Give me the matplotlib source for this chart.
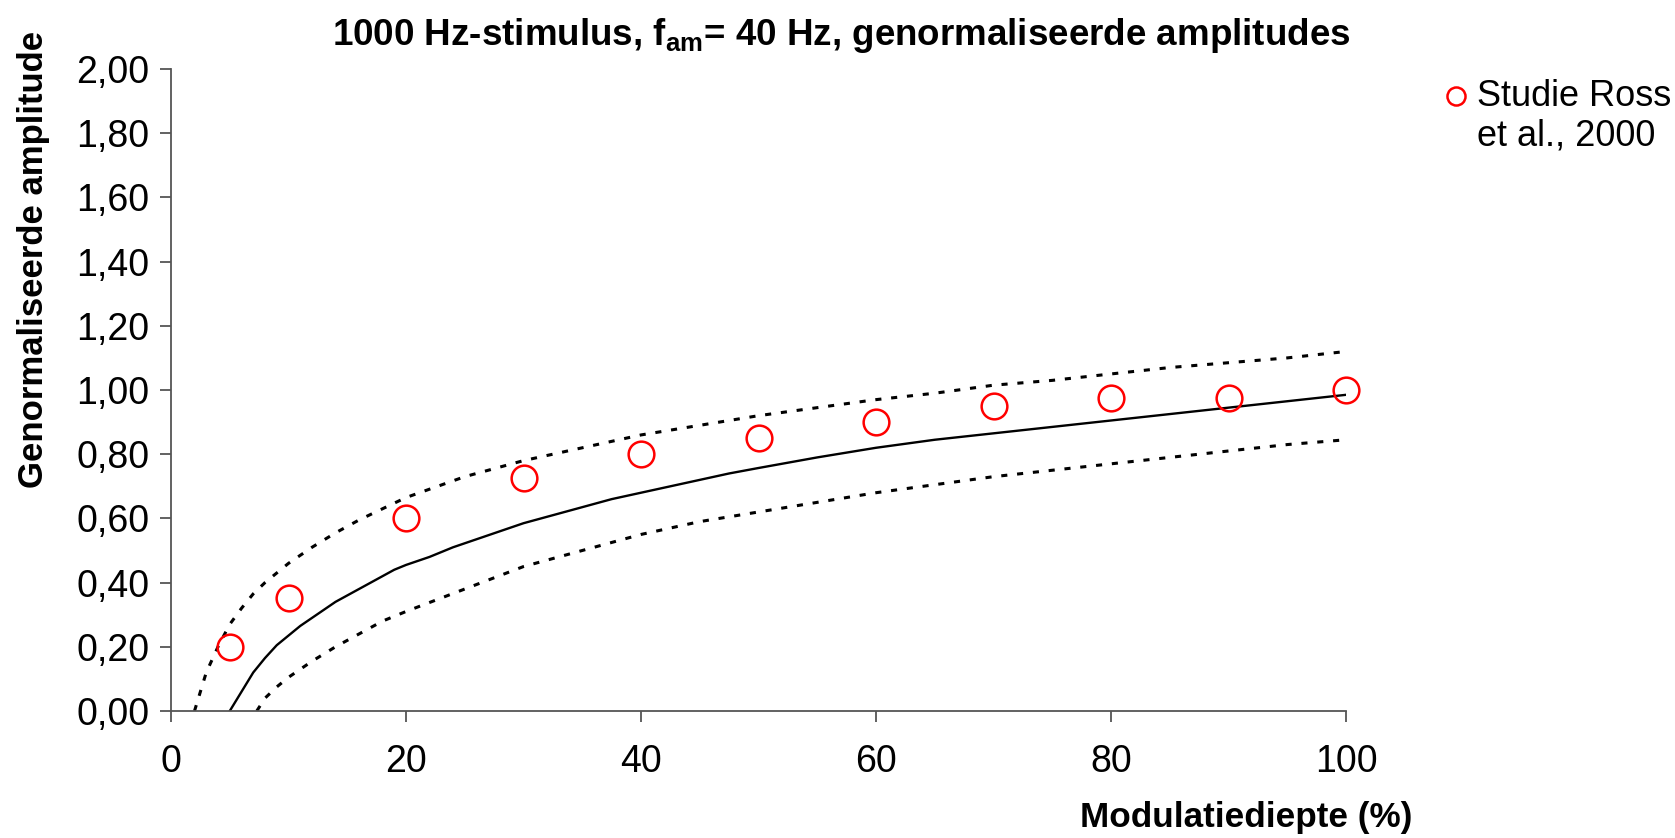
import matplotlib
matplotlib.use("Agg")
import matplotlib.pyplot as plt
from matplotlib.lines import Line2D
from matplotlib.ticker import FuncFormatter

plt.rcParams['font.family'] = ['Liberation Sans', 'DejaVu Sans']
plt.rcParams['mathtext.fontset'] = 'custom'
plt.rcParams['mathtext.bf'] = 'Liberation Sans:bold'
plt.rcParams['mathtext.rm'] = 'Liberation Sans'

# mean curve (solid)
mean_x = [5, 6, 7, 8, 9, 10, 11, 12, 13, 14, 15, 16, 17, 18, 19, 20, 22, 24,
          26, 28, 30, 32.5, 35, 37.5, 40, 42.5, 45, 47.5, 50, 55, 60, 65, 70,
          75, 80, 85, 90, 95, 100]
mean_y = [0.0, 0.06, 0.12, 0.165, 0.205, 0.235, 0.265, 0.29, 0.315, 0.34,
          0.36, 0.38, 0.40, 0.42, 0.44, 0.455, 0.48, 0.51, 0.535, 0.56, 0.585,
          0.61, 0.635, 0.66, 0.68, 0.70, 0.72, 0.74, 0.757, 0.79, 0.82, 0.845,
          0.865, 0.885, 0.905, 0.925, 0.945, 0.965, 0.985]

# upper bound (dotted)
upper_x = [2, 3, 4, 5, 6, 7, 8, 9, 10, 12, 14, 16, 18, 20, 25, 30, 35, 40,
           45, 50, 55, 60, 65, 70, 75, 80, 85, 90, 95, 100]
upper_y = [0.0, 0.12, 0.20, 0.27, 0.32, 0.365, 0.40, 0.43, 0.46, 0.51, 0.555,
           0.595, 0.63, 0.665, 0.73, 0.78, 0.82, 0.86, 0.89, 0.92, 0.945, 0.97,
           0.99, 1.015, 1.03, 1.05, 1.07, 1.085, 1.10, 1.12]

# lower bound (dotted)
lower_x = [7.3, 8, 9, 10, 12, 14, 16, 18, 20, 25, 30, 35, 40, 45, 50, 55, 60,
           65, 70, 75, 80, 85, 90, 95, 100]
lower_y = [0.0, 0.04, 0.075, 0.105, 0.155, 0.20, 0.24, 0.28, 0.31, 0.38, 0.45,
           0.50, 0.55, 0.59, 0.62, 0.65, 0.68, 0.705, 0.73, 0.75, 0.77, 0.79,
           0.81, 0.83, 0.845]

# Ross et al., 2000
ross_x = [5, 10, 20, 30, 40, 50, 60, 70, 80, 90, 100]
ross_y = [0.20, 0.353, 0.60, 0.727, 0.80, 0.85, 0.90, 0.95, 0.975, 0.975, 1.00]

fig = plt.figure(figsize=(16.75, 8.38), dpi=100)
ax = fig.add_axes([171 / 1675, 1 - 711 / 838, (1346 - 171) / 1675, (711 - 69) / 838])

ax.plot(upper_x, upper_y, color='black', lw=2.2, linestyle=(0, (2, 3.2)))
ax.plot(lower_x, lower_y, color='black', lw=2.2, linestyle=(0, (2, 3.2)))
ax.plot(mean_x, mean_y, color='black', lw=1.7)
ax.plot(ross_x, ross_y, 'o', mfc='none', mec='red', ms=18.5, mew=1.8,
        clip_on=False)

ax.set_xlim(0, 100)
ax.set_ylim(0, 2)
ax.set_xticks(range(0, 101, 20))
ax.set_yticks([i * 0.2 for i in range(11)])
ax.yaxis.set_major_formatter(FuncFormatter(lambda v, p: ('%.2f' % v).replace('.', ',')))

for s in ['top', 'right']:
    ax.spines[s].set_visible(False)
for s in ['left', 'bottom']:
    ax.spines[s].set_color('#555555')
    ax.spines[s].set_linewidth(1.3)
ax.tick_params(axis='both', direction='out', length=8, width=1.3, color='#555555',
               labelsize=27)
ax.tick_params(axis='x', pad=16)
ax.tick_params(axis='y', pad=7.5)

fig.text(0.502, 1 - 45 / 838, r'1000 Hz-stimulus, f$_\mathbf{am}$= 40 Hz, genormaliseerde amplitudes',
         ha='center', va='baseline', fontsize=26.5, fontweight='bold')
fig.text(1412 / 1675, 1 - 817 / 838, 'Modulatiediepte (%)', ha='right', va='center',
         fontsize=25.3, fontweight='bold')
fig.text(34 / 1675, 1 - 259 / 838, 'Genormaliseerde amplitude', ha='center', va='center',
         rotation=90, fontsize=25, fontweight='bold')

# legend
fig.add_artist(Line2D([1456 / 1675], [1 - 96 / 838], marker='o', mfc='none', mec='red',
                      ms=13, mew=1.8, transform=fig.transFigure))
fig.text(1477 / 1675, 1 - 96 / 838, 'Studie Ross', ha='left', va='center', fontsize=26)
fig.text(1477 / 1675, 1 - 136 / 838, 'et al., 2000', ha='left', va='center', fontsize=26)

fig.savefig('out.png', dpi=100)
